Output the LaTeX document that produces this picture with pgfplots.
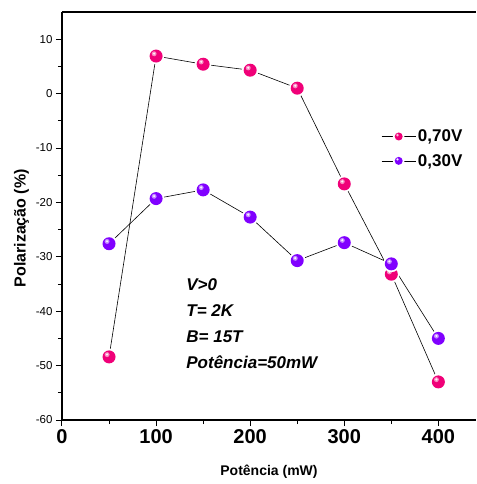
\documentclass[border=0pt]{standalone}
\usepackage{fontspec}
\setmainfont{Liberation Sans}
\usepackage{pgfplots}
\pgfplotsset{compat=1.18}
\definecolor{mypink}{RGB}{240,0,120}
\definecolor{mypurple}{RGB}{128,0,255}
\pgfdeclareplotmark{myball}{%
  \begin{pgfscope}\pgfsetfillcolor{white}%
  \pgfpathcircle{\pgfpointorigin}{\pgfplotmarksize+1.8pt}\pgfusepathqfill\end{pgfscope}%
  \pgfpathcircle{\pgfpointorigin}{\pgfplotmarksize}\pgfusepathqfill
  \begin{pgfscope}\pgfsetfillcolor{white}\pgfsetfillopacity{0.55}%
  \pgfpathcircle{\pgfpoint{-0.3\pgfplotmarksize}{0.35\pgfplotmarksize}}{0.38\pgfplotmarksize}\pgfusepathqfill\end{pgfscope}%
  \begin{pgfscope}\pgfsetfillcolor{white}\pgfsetfillopacity{0.9}%
  \pgfpathcircle{\pgfpoint{-0.3\pgfplotmarksize}{0.38\pgfplotmarksize}}{0.18\pgfplotmarksize}\pgfusepathqfill\end{pgfscope}%
}
\begin{document}
\begin{tikzpicture}
\begin{axis}[
  width=414pt, height=408pt, scale only axis,
  xmin=0, xmax=440, ymin=-60, ymax=15,
  axis x line*=bottom, axis y line*=left,
  axis line style={line width=1.2pt},
  xtick={0,100,...,400}, minor xtick={50,150,250,350},
  ytick={-60,-50,...,10}, minor ytick={-55,-45,...,5},
  tick align=outside, major tick length=6pt, minor tick length=4pt,
  tick style={line width=1pt, black},
  /pgf/number format/assume math mode=true,
  xticklabel style={font=\fontsize{20}{20}\selectfont\bfseries},
  yticklabel style={font=\fontsize{11.5}{11.5}\selectfont},
  xlabel={Potência (mW)}, ylabel={Polarização (\%)},
  xlabel style={font=\fontsize{14}{14}\selectfont\bfseries, yshift=-14pt},
  ylabel style={font=\fontsize{16}{16}\selectfont\bfseries, at={(ticklabel cs:0.47)}},
  clip=false,
  legend style={at={(rel axis cs:0.771,0.665)}, anchor=west, draw=none, fill=none,
    inner sep=0pt, font=\fontsize{17}{17}\selectfont\bfseries, row sep=7pt},
  legend cell align=left,
  legend image code/.code={\draw[#1, mark size=4pt, mark repeat=2, mark phase=2] plot coordinates {(0pt,0pt) (17pt,0pt) (34pt,0pt)};},
]
\addplot[black, line width=0.6pt, mark=myball, mark size=6.5pt, mark options={fill=mypink, draw=none}] coordinates {
 (50,-48.4) (100,6.9) (150,5.4) (200,4.3) (250,1.0) (300,-16.6) (350,-33.2) (400,-53.0)};
\addlegendentry{0,70V}
\addplot[black, line width=0.6pt, mark=myball, mark size=6.5pt, mark options={fill=mypurple, draw=none}] coordinates {
 (50,-27.6) (100,-19.3) (150,-17.7) (200,-22.7) (250,-30.7) (300,-27.4) (350,-31.3) (400,-45.0)};
\addlegendentry{0,30V}
\draw[line width=1.2pt] (rel axis cs:0,1) -- (rel axis cs:1,1);
\node[anchor=north west, inner sep=0pt, align=left, font=\fontsize{17}{26}\selectfont\bfseries\itshape] at (axis cs:132,-34) {V>0\\T= 2K\\B= 15T\\Potência=50mW};
\path (rel axis cs:0,1) ++(0pt,12pt) coordinate (tl);
\path (rel axis cs:0,0) ++(-62pt,-64pt) coordinate (bl);
\end{axis}
\end{tikzpicture}
\end{document}
